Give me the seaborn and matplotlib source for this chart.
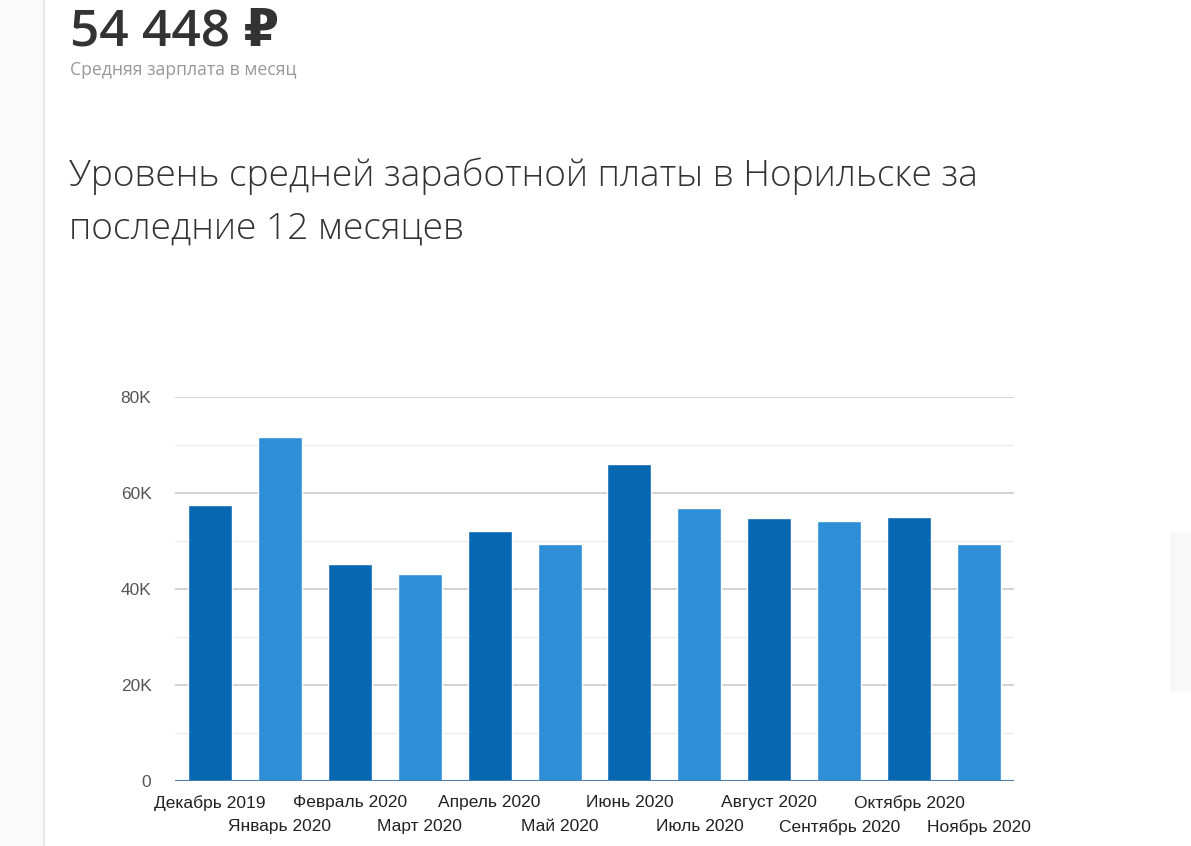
import matplotlib
matplotlib.use("Agg")
import matplotlib.pyplot as plt
import matplotlib.patches as mpatches
import seaborn as sns
import pandas as pd
import numpy as np

months = ["Декабрь 2019", "Январь 2020", "Февраль 2020", "Март 2020", "Апрель 2020",
          "Май 2020", "Июнь 2020", "Июль 2020", "Август 2020", "Сентябрь 2020",
          "Октябрь 2020", "Ноябрь 2020"]
salary = [57400, 71600, 45300, 43200, 52000, 49300, 66100, 56800, 54700, 54100, 54900, 49300]
yticks = [0, 20000, 40000, 60000, 80000]
ytick_labels = ["0", "20K", "40K", "60K", "80K"]

dark = "#0767b0"
light = "#2e8fd6"
palette = [dark if i % 2 == 0 else light for i in range(len(months))]

sns.set_theme(style="white")
plt.rcParams['font.family'] = ['Liberation Sans', 'DejaVu Sans']

fig = plt.figure(figsize=(11.91, 8.46), dpi=100)
ax = fig.add_axes([175/1191, 1-781/846, (1014-175)/1191, (781-397)/846])

df = pd.DataFrame({"month": months, "salary": salary})
sns.barplot(data=df, x="month", y="salary", hue="month", palette=palette,
            width=0.63, legend=False, ax=ax, zorder=3, saturation=1)

ax.set_ylim(0, 80000)
ax.set_xlim(-0.5, len(months) - 0.5)
for v in range(10000, 80001, 20000):
    ax.axhline(v, color="#ececec", lw=1, zorder=1)
for v in yticks[1:]:
    ax.axhline(v, color="#cccccc", lw=1.2, zorder=1)
ax.axhline(0, color="#4a7fb5", lw=1.5, zorder=4)

ax.set_yticks(yticks)
ax.set_yticklabels(ytick_labels, fontsize=12.5, color="#555555")
ax.tick_params(axis="y", length=0, pad=17)
ax.set_xticks(range(len(months)))
ax.set_xticklabels([])
ax.tick_params(axis="x", length=0)
for i, m in enumerate(months):
    ax.text(i, -0.036 if i % 2 == 0 else -0.099, m, transform=ax.get_xaxis_transform(),
            ha="center", va="top", fontsize=12.5, color="#222222")
for s in ax.spines.values():
    s.set_visible(False)
ax.set_xlabel("")
ax.set_ylabel("")

# page decorations
fig.add_artist(mpatches.Rectangle((0, 0), 44/1191, 1, transform=fig.transFigure,
                                  color="#fafafa", zorder=0))
fig.add_artist(plt.Line2D([44/1191, 44/1191], [0, 1], transform=fig.transFigure,
                          color="#e6e6e6", lw=1.2))
fig.add_artist(mpatches.Rectangle((1170/1191, 1-690/846), 21/1191, 158/846,
                                  transform=fig.transFigure, color="#f8f8f8", zorder=0))

fig.text(70/1191, 1-32/846, "54 448 ₽", fontsize=37, fontweight="semibold",
         color="#333333", va="center", ha="left", family=["Open Sans", "DejaVu Sans"])
fig.text(70/1191, 1-70/846, "Средняя зарплата в месяц", fontsize=12.7,
         color="#999999", va="center", ha="left", family=["Open Sans", "DejaVu Sans"])
fig.text(69/1191, 1-176/846, "Уровень средней заработной платы в Норильске за",
         fontsize=26.7, fontweight="light", color="#333333", va="center", ha="left",
         family=["Open Sans", "DejaVu Sans"])
fig.text(69/1191, 1-229/846, "последние 12 месяцев",
         fontsize=26.7, fontweight="light", color="#333333", va="center", ha="left",
         family=["Open Sans", "DejaVu Sans"])

fig.savefig("out.png", dpi=100)
